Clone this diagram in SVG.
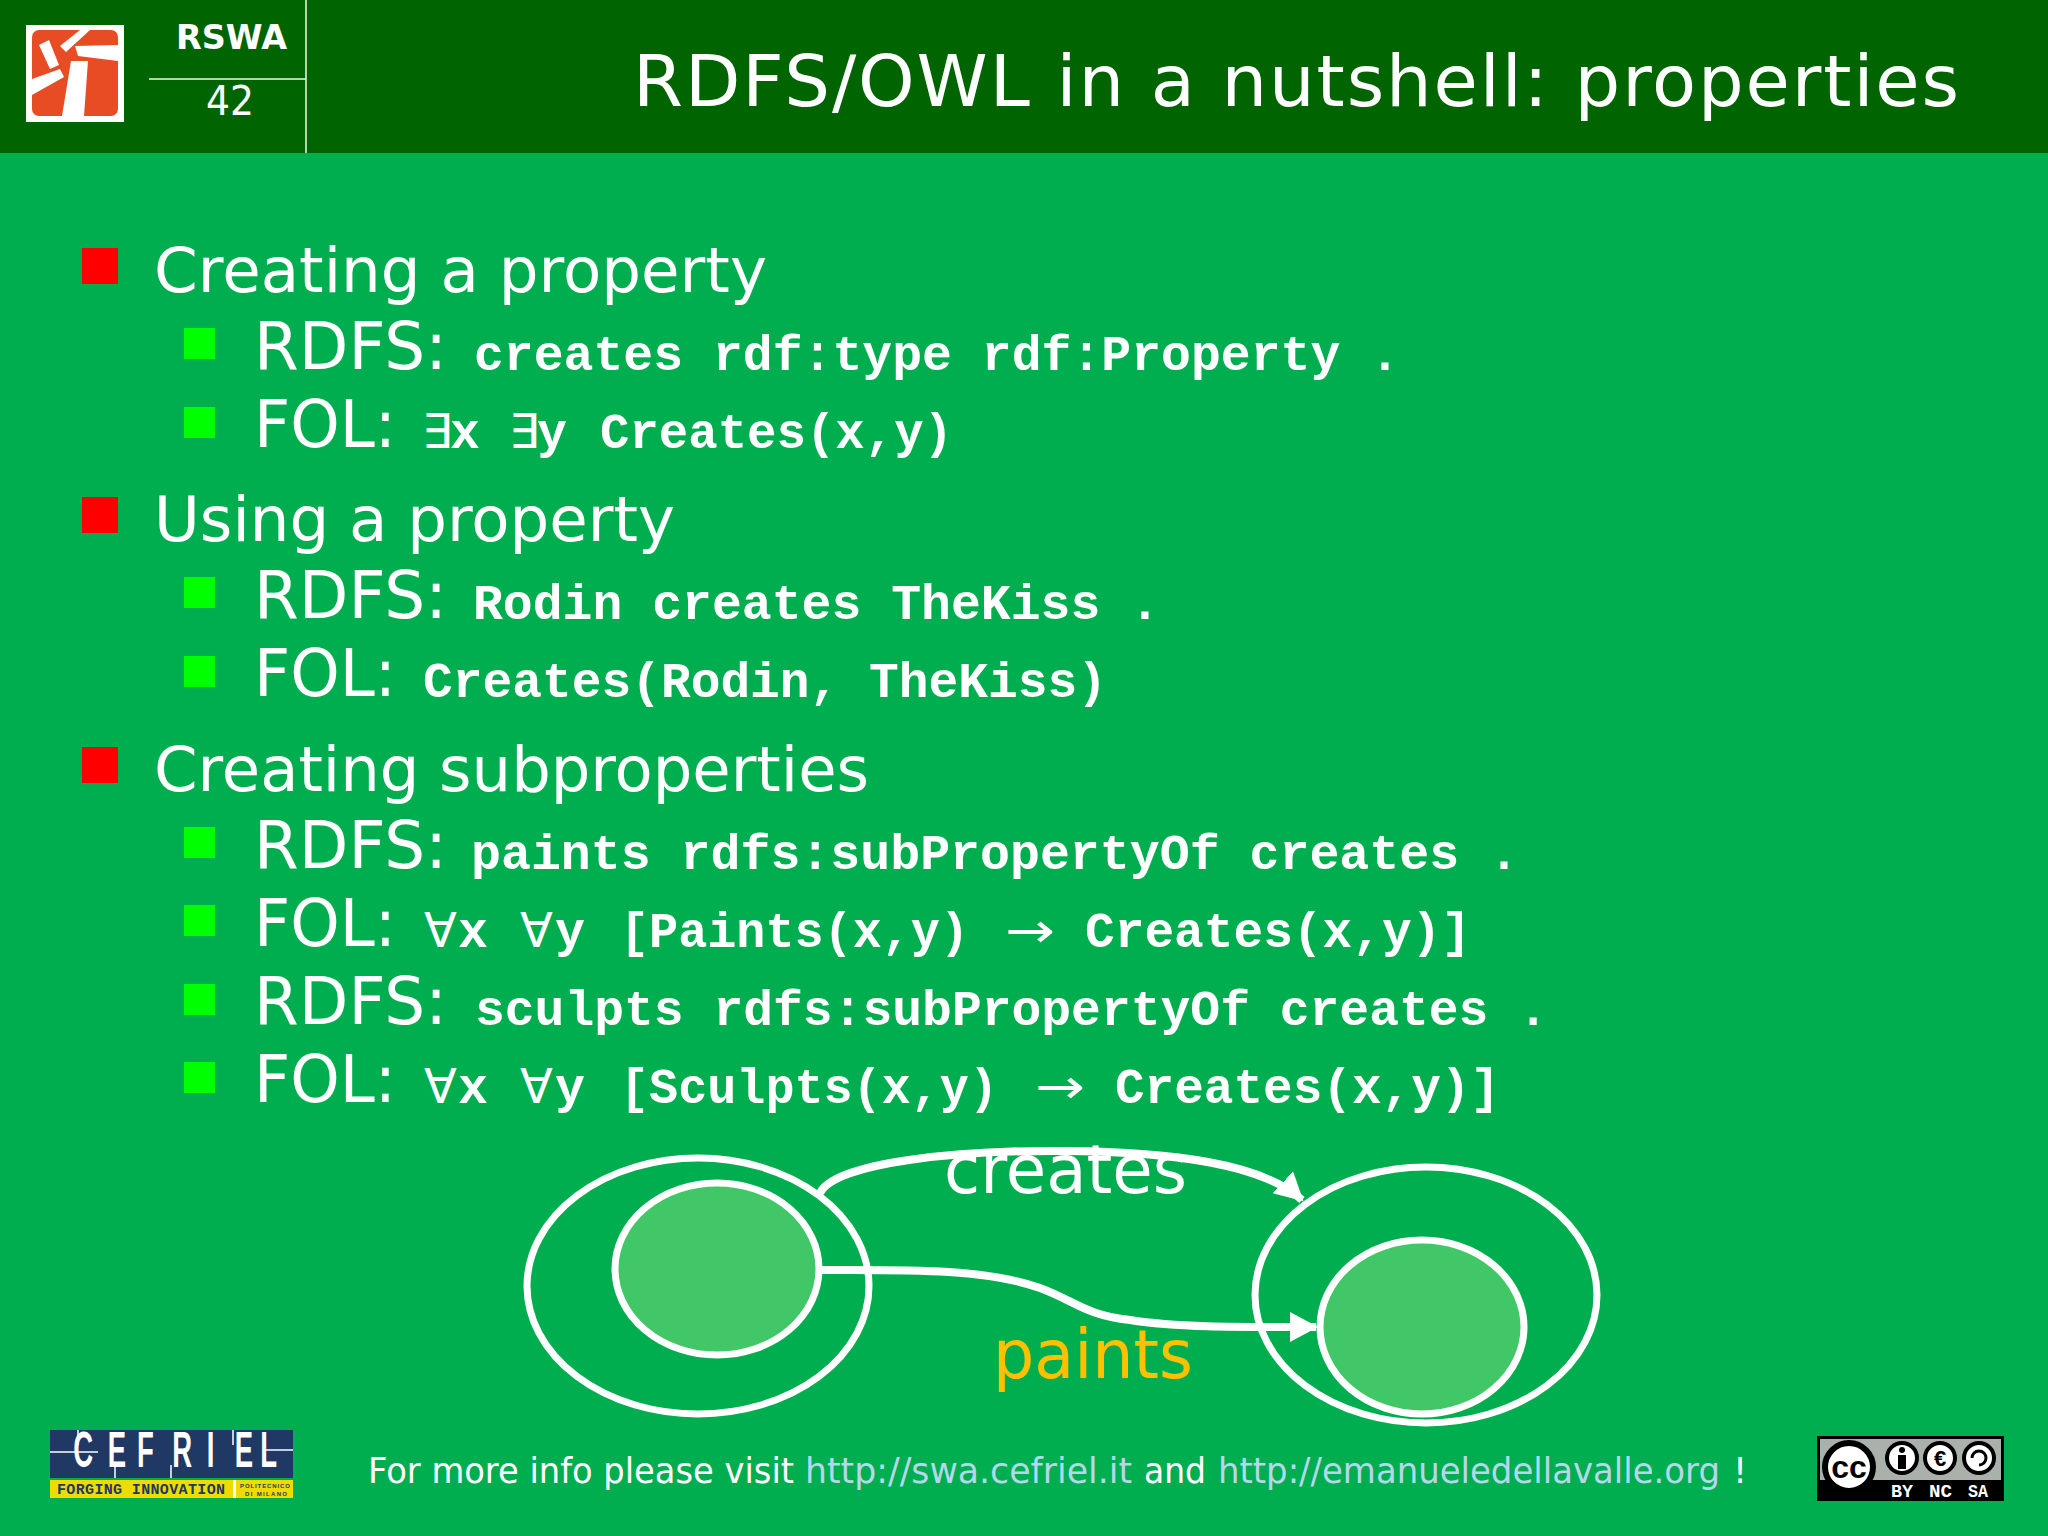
<svg xmlns="http://www.w3.org/2000/svg" width="2048" height="1536" viewBox="0 0 2048 1536">
<defs>
<style>
.s{font-family:"DejaVu Sans","Liberation Sans",sans-serif;fill:#fff}
.m{font-size:63px}.u{font-size:65px}
.c{font-family:"Liberation Mono","DejaVu Sans Mono",monospace;font-weight:700;font-size:50px;fill:#fff}
.y{font-family:"DejaVu Sans",sans-serif;font-size:48px;fill:#fff}
.f{font-size:35px}
.r{fill:#f00}.g{fill:#0f0}
.o{fill:none;stroke:#fff;stroke-width:7}
.i{fill:#42c768;stroke:#fff;stroke-width:7}
.l{fill:none;stroke:#fff;stroke-width:8}
.n{fill:#b4d8ea}
</style>
<marker id="ah" markerUnits="userSpaceOnUse" markerWidth="34" markerHeight="34" refX="26" refY="15" orient="auto"><path d="M0 0L28 15L0 30Z" fill="#fff"/></marker>
</defs>
<rect width="2048" height="1536" fill="#00ae50"/>
<g id="header">
<rect width="2048" height="153" fill="#006400"/>
<path d="M306 0V153M149 79H306" stroke="#f0f8f0" stroke-width="1.5" fill="none"/>
<rect x="26" y="25" width="98" height="97" fill="#fff"/>
<rect x="32" y="30" width="86" height="86" rx="7" fill="#e84c24"/>
<path d="M39 45L49 40L59 65L50 69ZM60 46L80 30H90L66 52ZM75 46L118 45V61L78 56ZM32 79L60 69L64 77L32 95ZM71 61H88L84 116H62Z" fill="#fff"/>
<text class="s" x="176" y="49" font-size="34" font-weight="700" textLength="111" lengthAdjust="spacingAndGlyphs">RSWA</text>
<text class="s" x="206" y="115" font-size="40" textLength="48" lengthAdjust="spacingAndGlyphs">42</text>
<text class="s" x="633" y="106" font-size="72" textLength="1326" lengthAdjust="spacing">RDFS/OWL in a nutshell: properties</text>
</g>
<g id="bullets">
<rect class="r" x="82" y="248" width="36" height="36"/>
<rect class="r" x="82" y="497" width="36" height="36"/>
<rect class="r" x="82" y="747" width="36" height="36"/>
<rect class="g" x="184" y="328" width="31" height="31"/>
<rect class="g" x="184" y="407" width="31" height="31"/>
<rect class="g" x="184" y="577" width="31" height="31"/>
<rect class="g" x="184" y="656" width="31" height="31"/>
<rect class="g" x="184" y="827" width="31" height="31"/>
<rect class="g" x="184" y="905" width="31" height="31"/>
<rect class="g" x="184" y="984" width="31" height="31"/>
<rect class="g" x="184" y="1062" width="31" height="31"/>
</g>
<g id="text">
<text class="s m" x="154" y="292" textLength="613" lengthAdjust="spacingAndGlyphs">Creating a property</text>
<text class="s u" x="254" y="369" textLength="193" lengthAdjust="spacingAndGlyphs">RDFS:</text>
<text class="c" x="474" y="370" textLength="926" lengthAdjust="spacingAndGlyphs">creates rdf:type rdf:Property .</text>
<text class="s u" x="254" y="447" textLength="142" lengthAdjust="spacingAndGlyphs">FOL:</text>
<text class="y" x="422" y="448">∃</text><text class="c" x="450" y="448">x</text><text class="y" x="509" y="448">∃</text><text class="c" x="537" y="448">y</text>
<text class="c" x="600" y="448" textLength="353" lengthAdjust="spacingAndGlyphs">Creates(x,y)</text>

<text class="s m" x="154" y="541" textLength="521" lengthAdjust="spacingAndGlyphs">Using a property</text>
<text class="s u" x="254" y="618" textLength="193" lengthAdjust="spacingAndGlyphs">RDFS:</text>
<text class="c" x="473" y="619" textLength="687" lengthAdjust="spacingAndGlyphs">Rodin creates TheKiss .</text>
<text class="s u" x="254" y="696" textLength="142" lengthAdjust="spacingAndGlyphs">FOL:</text>
<text class="c" x="423" y="697" textLength="684" lengthAdjust="spacingAndGlyphs">Creates(Rodin, TheKiss)</text>

<text class="s m" x="154" y="791" textLength="715" lengthAdjust="spacingAndGlyphs">Creating subproperties</text>
<text class="s u" x="254" y="868" textLength="193" lengthAdjust="spacingAndGlyphs">RDFS:</text>
<text class="c" x="471" y="869" textLength="1048" lengthAdjust="spacingAndGlyphs">paints rdfs:subPropertyOf creates .</text>
<text class="s u" x="254" y="946" textLength="142" lengthAdjust="spacingAndGlyphs">FOL:</text>
<text class="y" x="424" y="947">∀</text><text class="c" x="458" y="947">x</text><text class="y" x="520" y="947">∀</text><text class="c" x="555" y="947">y</text>
<text class="c" x="620" y="947" textLength="349" lengthAdjust="spacingAndGlyphs">[Paints(x,y)</text>
<text class="y" x="1005" y="947" textLength="50" lengthAdjust="spacingAndGlyphs">→</text>
<text class="c" x="1085" y="947" textLength="386" lengthAdjust="spacingAndGlyphs">Creates(x,y)]</text>
<text class="s u" x="254" y="1024" textLength="193" lengthAdjust="spacingAndGlyphs">RDFS:</text>
<text class="c" x="475" y="1025" textLength="1073" lengthAdjust="spacingAndGlyphs">sculpts rdfs:subPropertyOf creates .</text>
<text class="s u" x="254" y="1102" textLength="142" lengthAdjust="spacingAndGlyphs">FOL:</text>
<text class="y" x="424" y="1103">∀</text><text class="c" x="458" y="1103">x</text><text class="y" x="520" y="1103">∀</text><text class="c" x="555" y="1103">y</text>
<text class="c" x="620" y="1103" textLength="378" lengthAdjust="spacingAndGlyphs">[Sculpts(x,y)</text>
<text class="y" x="1035" y="1103" textLength="50" lengthAdjust="spacingAndGlyphs">→</text>
<text class="c" x="1115" y="1103" textLength="385" lengthAdjust="spacingAndGlyphs">Creates(x,y)]</text>
</g>
<g id="node-domain"><ellipse class="o" cx="698" cy="1286" rx="171" ry="128"/></g>
<g id="node-domain-sub"><ellipse class="i" cx="717" cy="1269" rx="102" ry="86"/></g>
<g id="node-range"><ellipse class="o" cx="1426" cy="1295" rx="171" ry="128"/></g>
<g id="node-range-sub"><ellipse class="i" cx="1422" cy="1327" rx="102" ry="87"/></g>
<g id="connectors">
<path class="l" marker-end="url(#ah)" d="M820 1193C835 1162 960 1150 1067 1151C1170 1152 1262 1163 1302 1200"/>
<path class="l" marker-end="url(#ah)" d="M820 1270C900 1270 985 1268 1040 1288C1075 1301 1085 1315 1130 1320C1180 1328 1250 1327 1316 1327"/>
</g>
<text class="s" x="944" y="1193" font-size="68" textLength="243" lengthAdjust="spacingAndGlyphs">creates</text>
<text class="s" x="993" y="1378" font-size="68" textLength="200" lengthAdjust="spacingAndGlyphs" style="fill:#ffc000">paints</text>
<g id="footer">
<text class="s f" x="368" y="1483" textLength="426" lengthAdjust="spacingAndGlyphs">For more info please visit</text>
<text class="s f n" x="805" y="1483" textLength="327" lengthAdjust="spacingAndGlyphs">http://swa.cefriel.it</text>
<text class="s f" x="1144" y="1483" textLength="62" lengthAdjust="spacingAndGlyphs">and</text>
<text class="s f n" x="1218" y="1483" textLength="502" lengthAdjust="spacingAndGlyphs">http://emanueledellavalle.org</text>
<text class="s f" x="1733" y="1483">!</text>
</g>
<g id="logo-cefriel">
<rect x="50" y="1430" width="243" height="48" fill="#1f3864"/>
<rect x="50" y="1480" width="243" height="18" fill="#eedc00"/>
<rect x="233" y="1480" width="3" height="18" fill="#fff"/>
<path d="M50 1452H98M78 1430V1445M115 1465V1478M171 1465V1478M233 1430V1445M264 1450H293" stroke="#fff" stroke-width="1.5" fill="none"/>
<text transform="translate(0 1467) scale(.55 1)" x="133 196 249 313 376 427 473" y="0" font-family="Liberation Sans,sans-serif" font-weight="700" font-size="50" fill="#fff">CEFRIEL</text>
<text x="57" y="1494" font-family="Liberation Mono,monospace" font-weight="700" font-size="15" fill="#1f3864" textLength="168" lengthAdjust="spacing">FORGING INNOVATION</text>
<text x="240" y="1488" font-family="Liberation Sans,sans-serif" font-weight="700" font-size="6" fill="#1f3864" textLength="50" lengthAdjust="spacing">POLITECNICO</text>
<text x="245" y="1496" font-family="Liberation Sans,sans-serif" font-weight="700" font-size="6" fill="#1f3864" textLength="42" lengthAdjust="spacing">DI MILANO</text>
</g>
<g id="logo-cc">
<rect x="1817" y="1436" width="187" height="65" fill="#000"/>
<rect x="1820" y="1439" width="181" height="41" fill="#aab0aa"/>
<circle cx="1849" cy="1467" r="24" fill="#fff" stroke="#000" stroke-width="6"/>
<text x="1849" y="1478" text-anchor="middle" font-family="Liberation Sans,sans-serif" font-weight="700" font-size="32" fill="#000">cc</text>
<circle cx="1902" cy="1458" r="15" fill="#fff" stroke="#000" stroke-width="4"/>
<circle cx="1902" cy="1450" r="3" fill="#000"/><rect x="1898" y="1455" width="8" height="14" fill="#000"/>
<circle cx="1940" cy="1458" r="15" fill="#fff" stroke="#000" stroke-width="4"/>
<text x="1940" y="1466" text-anchor="middle" font-family="Liberation Sans,sans-serif" font-weight="700" font-size="22" fill="#000">€</text>
<circle cx="1979" cy="1458" r="15" fill="#fff" stroke="#000" stroke-width="4"/>
<path d="M1972 1458A7 7 0 1 1 1979 1465" fill="none" stroke="#000" stroke-width="3"/>
<text x="1891" y="1497" font-family="Liberation Mono,monospace" font-weight="700" font-size="18" fill="#fff" textLength="22" lengthAdjust="spacingAndGlyphs">BY</text>
<text x="1929" y="1497" font-family="Liberation Mono,monospace" font-weight="700" font-size="18" fill="#fff" textLength="23" lengthAdjust="spacingAndGlyphs">NC</text>
<text x="1968" y="1497" font-family="Liberation Mono,monospace" font-weight="700" font-size="18" fill="#fff" textLength="20" lengthAdjust="spacingAndGlyphs">SA</text>
</g>
</svg>
